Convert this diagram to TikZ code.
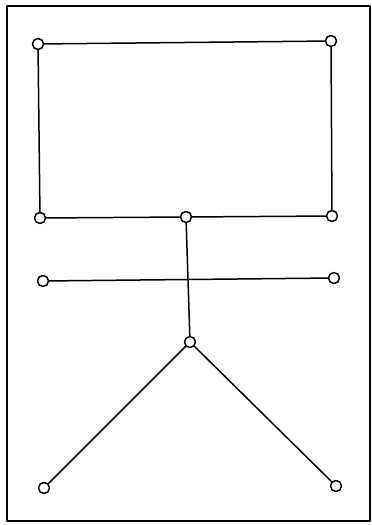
\documentclass[tikz,border=0pt]{standalone}
\begin{document}
\begin{tikzpicture}[x=1pt,y=-1pt, line join=round, line cap=round, line width=1.5pt,
		vtx/.style={circle,draw,fill=white,inner sep=0pt,minimum size=11pt,line width=1.5pt}]
			\useasboundingbox (0,0) rectangle (372,525);
			\draw (7,6) rectangle (370,521);
			% the box
			\node[vtx] (tl) at (38,44) {};
			\node[vtx] (tr) at (331,41) {};
			\node[vtx] (bl) at (40,218) {};
			\node[vtx] (br) at (332,216) {};
			\node[vtx] (m) at (186,217) {};
			% middle bar and fork
			\node[vtx] (hl) at (43,281) {};
			\node[vtx] (hr) at (334,278) {};
			\node[vtx] (y) at (190,342) {};
			\node[vtx] (fl) at (44,488) {};
			\node[vtx] (fr) at (336,486) {};
			\draw (tl) -- (tr) -- (br) -- (m) -- (bl) -- (tl);
			\draw (hl) -- (hr);
			\draw (m) -- (y);
			\draw (y) -- (fl);
			\draw (y) -- (fr);
		\end{tikzpicture}
\end{document}
